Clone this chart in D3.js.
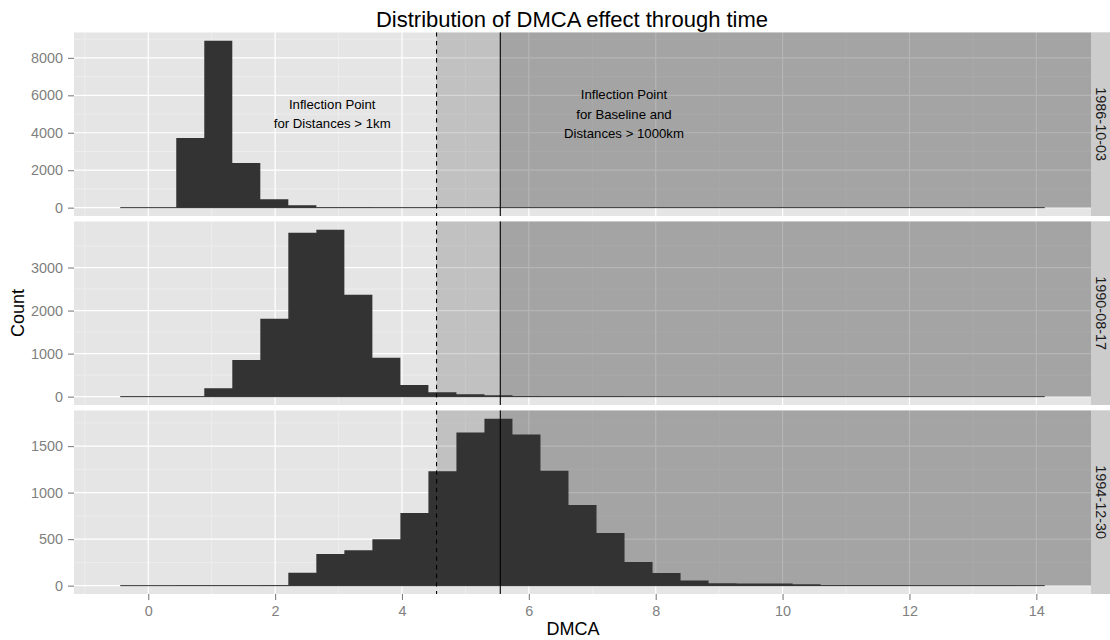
<!DOCTYPE html>
<html>
<head>
<meta charset="utf-8">
<script src="https://cdn.jsdelivr.net/npm/d3@7"></script>
<style>
  body { margin: 0; background: #fff; }
  svg { display: block; font-family: "Liberation Sans", Arial, Helvetica, sans-serif; }
</style>
</head>
<body>
<svg id="chart" width="1110" height="640"></svg>
<script>
// Histogram bins: width = range / 30, edges at multiples of the bin width
const binWidth = 13.25 / 30;
const firstBinIndex = -1;

const panelLabels = ["1986-10-03", "1990-08-17", "1994-12-30"];

// Counts per bin (bin k covers [k*binWidth, (k+1)*binWidth]), k = -1 .. 31
const counts1986 = [0, 0, 3720, 8920, 2380, 450, 125, 12, 3, 0, 0, 0, 0, 0, 0, 0,
                    0, 0, 0, 0, 0, 0, 0, 0, 0, 0, 0, 0, 0, 0, 0, 0, 0];
const counts1990 = [2, 3, 5, 195, 850, 1810, 3810, 3880, 2370, 905, 270, 105, 58, 35, 12, 6,
                    3, 1, 0, 0, 0, 0, 0, 0, 0, 0, 0, 0, 0, 0, 0, 0, 0];
const counts1994 = [0, 0, 1, 1, 2, 3, 140, 340, 380, 500, 780, 1230, 1645, 1795, 1625, 1235,
                    868, 566, 254, 136, 55, 25, 24, 24, 14, 5, 4, 3, 2, 1, 1, 1, 0];
const panelCounts = [counts1986, counts1990, counts1994];

const xTicks = [0, 2, 4, 6, 8, 10, 12, 14];
const yTicks1986 = [0, 2000, 4000, 6000, 8000];
const yTicks1990 = [0, 1000, 2000, 3000];
const yTicks1994 = [0, 500, 1000, 1500];
const panelYTicks = [yTicks1986, yTicks1990, yTicks1994];

// Inflection points (DMCA)
const inflectionNear = 4.545;  // dashed line, distances > 1km
const inflectionFar = 5.55;    // solid line, baseline and distances > 1000km

const annotations = [
  { x: 2.9, y: 5000, lines: ["Inflection Point", "for Distances > 1km"] },
  { x: 7.5, y: 5000, lines: ["Inflection Point", "for Baseline and", "Distances > 1000km"] }
];

// ---- layout ----
const svg = d3.select("#chart");
const panelLeft = 74, panelRight = 1091, stripRight = 1110;
const panelTops = [32.3, 221.3, 410.3];
const panelH = 183.7;

const nBins = counts1986.length;
const edgeMin = firstBinIndex * binWidth;
const edgeMax = (firstBinIndex + nBins) * binWidth;
const xPad = (edgeMax - edgeMin) * 0.05;
const x = d3.scaleLinear().domain([edgeMin - xPad, edgeMax + xPad]).range([panelLeft, panelRight]);

function minorBreaks(ticks) {
  const step = ticks[1] - ticks[0];
  const ext = [ticks[0] - step, ...ticks, ticks[ticks.length - 1] + step];
  const out = [];
  for (let i = 0; i < ext.length - 1; i++) out.push((ext[i] + ext[i + 1]) / 2);
  return out;
}
const xMinor = minorBreaks(xTicks);

const defs = svg.append("defs");

panelCounts.forEach((counts, p) => {
  const top = panelTops[p], bottom = top + panelH;
  const maxC = d3.max(counts);
  const y = d3.scaleLinear().domain([-0.05 * maxC, 1.05 * maxC]).range([bottom, top]);
  const yTicks = panelYTicks[p];
  const yMinor = minorBreaks(yTicks);

  defs.append("clipPath").attr("id", "clip" + p)
    .append("rect").attr("x", panelLeft).attr("y", top)
    .attr("width", panelRight - panelLeft).attr("height", panelH);

  const g = svg.append("g").attr("clip-path", `url(#clip${p})`);

  g.append("rect").attr("x", panelLeft).attr("y", top)
    .attr("width", panelRight - panelLeft).attr("height", panelH).attr("fill", "#e5e5e5");

  // minor grid
  g.selectAll(null).data(xMinor).join("line")
    .attr("x1", d => x(d)).attr("x2", d => x(d)).attr("y1", top).attr("y2", bottom)
    .attr("stroke", "#f2f2f2").attr("stroke-width", 0.6);
  g.selectAll(null).data(yMinor).join("line")
    .attr("x1", panelLeft).attr("x2", panelRight).attr("y1", d => y(d)).attr("y2", d => y(d))
    .attr("stroke", "#f2f2f2").attr("stroke-width", 0.6);
  // major grid
  g.selectAll(null).data(xTicks).join("line")
    .attr("x1", d => x(d)).attr("x2", d => x(d)).attr("y1", top).attr("y2", bottom)
    .attr("stroke", "#ffffff").attr("stroke-width", 1.2);
  g.selectAll(null).data(yTicks).join("line")
    .attr("x1", panelLeft).attr("x2", panelRight).attr("y1", d => y(d)).attr("y2", d => y(d))
    .attr("stroke", "#ffffff").attr("stroke-width", 1.2);

  // shaded regions beyond each inflection point
  [inflectionNear, inflectionFar].forEach(v => {
    g.append("rect").attr("x", x(v)).attr("y", top)
      .attr("width", panelRight - x(v)).attr("height", y(0) - top)
      .attr("fill", "#333333").attr("fill-opacity", 0.2);
  });

  // histogram: one stepped outline over all bins
  const steps = counts.map((c, i) => ({ edge: (firstBinIndex + i) * binWidth, count: c }));
  steps.push({ edge: edgeMax, count: counts[counts.length - 1] });
  const area = d3.area()
    .x(d => x(d.edge)).y0(y(0)).y1(d => y(d.count))
    .curve(d3.curveStepAfter);
  g.append("path").datum(steps).attr("d", area).attr("fill", "#333333");
  g.append("line")
    .attr("x1", x(edgeMin)).attr("x2", x(edgeMax)).attr("y1", y(0)).attr("y2", y(0))
    .attr("stroke", "#333333").attr("stroke-width", 1);

  // inflection lines
  g.append("line").attr("x1", x(inflectionNear)).attr("x2", x(inflectionNear))
    .attr("y1", top).attr("y2", bottom).attr("stroke", "#000")
    .attr("stroke-width", 1.1).attr("stroke-dasharray", "4.3,4.3");
  g.append("line").attr("x1", x(inflectionFar)).attr("x2", x(inflectionFar))
    .attr("y1", top).attr("y2", bottom).attr("stroke", "#000").attr("stroke-width", 1.1);

  // annotations in first panel
  if (p === 0) {
    annotations.forEach(a => {
      const t = g.append("text").attr("text-anchor", "middle")
        .attr("font-size", "13.2px").attr("fill", "#000");
      a.lines.forEach((ln, j) => {
        t.append("tspan").attr("x", x(a.x))
          .attr("y", y(a.y) + (j - (a.lines.length - 1) / 2) * 19.3)
          .attr("dy", "0.35em").text(ln);
      });
    });
  }

  // y axis
  const ya = svg.append("g").attr("transform", `translate(${panelLeft},0)`)
    .call(d3.axisLeft(y).tickValues(yTicks).tickSize(6).tickPadding(5).tickFormat(d3.format("d")));
  ya.select(".domain").remove();
  ya.selectAll(".tick line").attr("stroke", "#7f7f7f").attr("stroke-width", 1.1);
  ya.selectAll(".tick text").attr("fill", "#7f7f7f").attr("font-size", "14.4px")
    .attr("font-family", "Liberation Sans, Arial, sans-serif");

  // strip
  svg.append("rect").attr("x", panelRight).attr("y", top)
    .attr("width", stripRight - panelRight).attr("height", panelH).attr("fill", "#cccccc");
  svg.append("text")
    .attr("transform", `translate(${(panelRight + stripRight) / 2 + 0.5},${top + panelH / 2}) rotate(90)`)
    .attr("text-anchor", "middle").attr("dy", "0.35em")
    .attr("font-size", "14.4px").attr("fill", "#1a1a1a").text(panelLabels[p]);
});

// x axis
const lastBottom = panelTops[2] + panelH;
const xa = svg.append("g").attr("transform", `translate(0,${lastBottom})`)
  .call(d3.axisBottom(x).tickValues(xTicks).tickSize(6).tickPadding(6));
xa.select(".domain").remove();
xa.selectAll(".tick line").attr("stroke", "#7f7f7f").attr("stroke-width", 1.1);
xa.selectAll(".tick text").attr("fill", "#7f7f7f").attr("font-size", "14.4px")
  .attr("font-family", "Liberation Sans, Arial, sans-serif");

// titles
svg.append("text").attr("x", 572).attr("y", 27).attr("text-anchor", "middle")
  .attr("font-size", "22px").attr("fill", "#000").text("Distribution of DMCA effect through time");
svg.append("text").attr("x", 573).attr("y", 635).attr("text-anchor", "middle")
  .attr("font-size", "18px").attr("fill", "#000").text("DMCA");
svg.append("text").attr("transform", "translate(18,313) rotate(-90)")
  .attr("text-anchor", "middle").attr("dy", "0.35em")
  .attr("font-size", "18px").attr("fill", "#000").text("Count");
</script>
</body>
</html>
